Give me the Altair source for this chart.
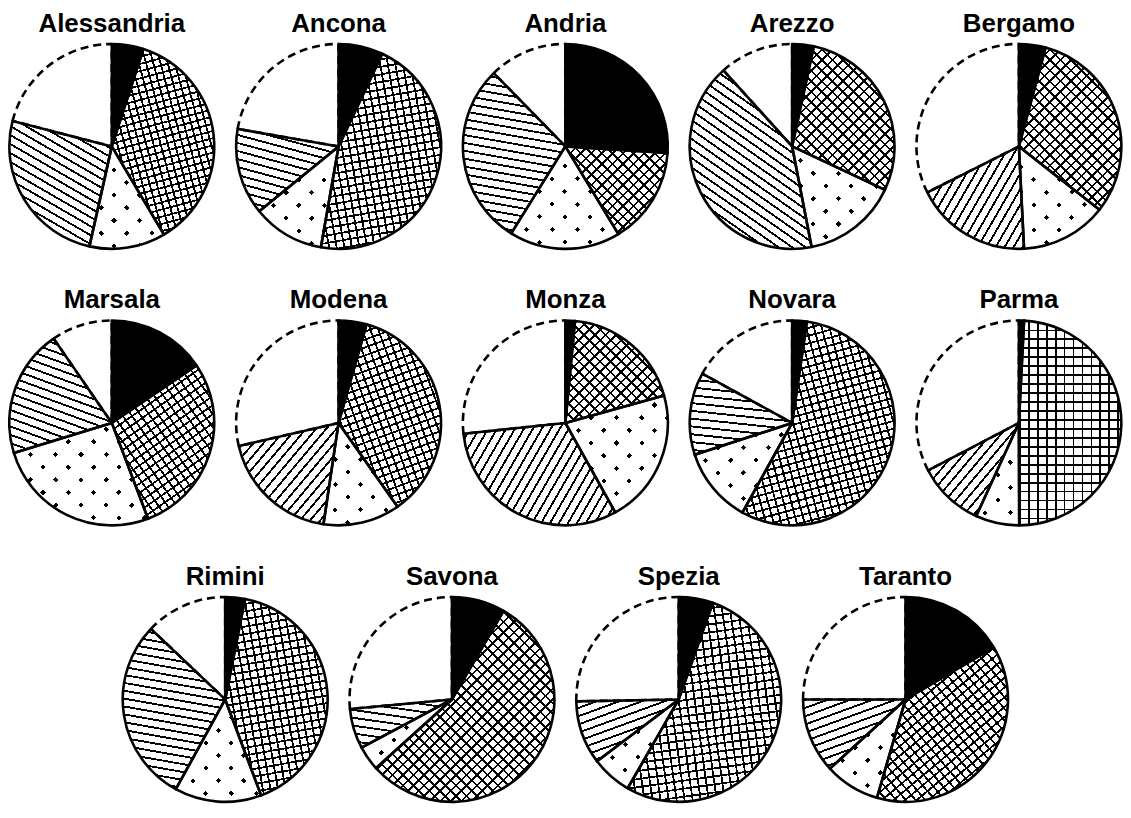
import math
import altair as alt
import pandas as pd

# ---------------- data (percent shares) ----------------
cities = ["Alessandria", "Ancona", "Andria", "Arezzo", "Bergamo",
          "Marsala", "Modena", "Monza", "Novara", "Parma",
          "Rimini", "Savona", "Spezia", "Taranto"]
categories = ["nero", "quadrettato", "punteggiato", "tratteggiato", "bianco"]

nero         = [5.0, 7.0, 26.0, 3.4, 4.2, 15.5, 4.4, 1.5, 2.3, 0.8, 3.1, 8.4, 5.4, 16.5]
quadrettato  = [36.5, 45.6, 15.3, 28.6, 31.4, 28.7, 35.8, 19.2, 55.7, 49.2, 41.2, 54.9, 52.9, 38.0]
punteggiato  = [12.0, 11.3, 17.5, 15.0, 13.6, 26.0, 12.1, 21.2, 11.9, 6.9, 13.7, 3.9, 6.4, 8.7]
tratteggiato = [25.5, 13.6, 28.8, 41.4, 18.4, 20.1, 19.0, 31.4, 13.0, 10.5, 29.1, 6.3, 10.0, 11.8]
bianco       = [21.0, 22.2, 12.3, 11.7, 32.4, 9.6, 28.6, 26.7, 17.0, 32.7, 12.9, 26.5, 25.3, 25.0]

series = [nero, quadrettato, punteggiato, tratteggiato, bianco]

rows = []
for ci, c in enumerate(cities):
    for k, cat in enumerate(categories):
        rows.append({"city": c, "category": cat, "order": k, "value": series[k][ci]})
df = pd.DataFrame(rows)

# ---------------- styles ----------------
hatch_angle = [-30, -15, -10, -35, 60, -20, 50, 60, -6, 50, -10, -8, 20, 20]
cross_rot = [15, 10, 45, 45, 45, 35, 20, 45, 15, 0, 10, 45, 8, 40]
cross_spacing = [7, 7.5, 7.5, 7.5, 7.5, 7.5, 7.5, 7.5, 7.5, 9, 7.5, 7.5, 8, 7.5]

SIZE = 208
R = 103
TRANSP = "rgba(255,255,255,0)"


def wedge_bbox(f0, f1):
    a0, a1 = f0 * 2 * math.pi, f1 * 2 * math.pi
    pts = [(0.0, 0.0), (R * math.sin(a0), -R * math.cos(a0)), (R * math.sin(a1), -R * math.cos(a1))]
    for k in range(5):
        ang = k * math.pi / 2
        if a0 < ang < a1:
            pts.append((R * math.sin(ang), -R * math.cos(ang)))
    xs = [p[0] for p in pts]
    ys = [p[1] for p in pts]
    return max(max(xs) - min(xs), 1e-3), max(max(ys) - min(ys), 1e-3)


def stripes(f0, f1, phi_deg, spacing, line_w, on, off=TRANSP):
    w, h = wedge_bbox(f0, f1)
    phi = math.radians(phi_deg)
    nx, ny = math.sin(phi), math.cos(phi)
    corners = [(0, 0), (w, 0), (0, h), (w, h)]
    L = [nx * cx + ny * cy for cx, cy in corners]
    imin = min(range(4), key=lambda i: L[i])
    D = max(L) - min(L)
    S = w * w * nx * nx + h * h * ny * ny
    kk = D / S
    a, b = kk * w * nx, kk * h * ny
    x1, y1 = corners[imin][0] / w, corners[imin][1] / h
    stops = []
    i = 0
    while i * spacing <= D:
        t0 = i * spacing / D
        t1 = min(1.0, (i * spacing + line_w) / D)
        t2 = min(1.0, (i + 1) * spacing / D)
        stops += [{"offset": round(t0, 5), "color": on},
                  {"offset": round(t1, 5), "color": on},
                  {"offset": round(t1, 5), "color": off},
                  {"offset": round(t2, 5), "color": off}]
        i += 1
    return {"gradient": "linear", "x1": round(x1, 5), "y1": round(y1, 5),
            "x2": round(x1 + a, 5), "y2": round(y1 + b, 5), "stops": stops}


theta = alt.Theta("start:Q", scale=alt.Scale(domain=[0, 1]))
theta2 = alt.Theta2("end:Q")


def wedge(cat, fill):
    return (alt.Chart().mark_arc(radius=R, fill=fill)
            .encode(theta=theta, theta2=theta2)
            .transform_filter(alt.datum.category == cat))


def city_chart(ci):
    city = cities[ci]
    vals = [s[ci] for s in series]
    tot = sum(vals)
    cum = [0.0]
    for v in vals:
        cum.append(cum[-1] + v / tot)
    fr = {cat: (cum[k], cum[k + 1]) for k, cat in enumerate(categories)}

    layers = [
        alt.Chart().mark_arc(radius=R, fill="white").encode(theta=theta, theta2=theta2),
        wedge("nero", "black"),
    ]
    f0, f1 = fr["quadrettato"]
    sp = cross_spacing[ci]
    layers.append(wedge("quadrettato", stripes(f0, f1, cross_rot[ci], sp, 1.8, "black")))
    layers.append(wedge("quadrettato", stripes(f0, f1, cross_rot[ci] + 90, sp, 1.8, "black")))
    f0, f1 = fr["punteggiato"]
    layers.append(wedge("punteggiato", "black"))
    layers.append(wedge("punteggiato", stripes(f0, f1, 45, 18, 14.3, "white")))
    layers.append(wedge("punteggiato", stripes(f0, f1, -45, 18, 14.3, "white")))
    f0, f1 = fr["tratteggiato"]
    layers.append(wedge("tratteggiato", stripes(f0, f1, hatch_angle[ci], 7.8, 1.9, "black")))
    # dashed outline of the blank share
    layers.append(
        alt.Chart().mark_arc(radius=R, fillOpacity=0, stroke="black", strokeWidth=2.6,
                             strokeDash=[8, 5], strokeJoin="round")
        .encode(theta=theta, theta2=theta2)
        .transform_filter(alt.datum.category == "bianco")
    )
    # solid outline of all other shares
    layers.append(
        alt.Chart().mark_arc(radius=R, fillOpacity=0, stroke="black", strokeWidth=2.6,
                             strokeJoin="round")
        .encode(theta=theta, theta2=theta2)
        .transform_filter(alt.datum.category != "bianco")
    )
    return (alt.layer(*layers, data=df)
            .transform_filter(alt.datum.city == city)
            .transform_joinaggregate(total="sum(value)", groupby=["city"])
            .transform_window(cum="sum(value)", sort=[alt.SortField("order")],
                              groupby=["city"], frame=[None, 0])
            .transform_calculate(start="(datum.cum - datum.value) / datum.total",
                                 end="datum.cum / datum.total")
            .properties(width=SIZE, height=SIZE, title=city))


row1 = alt.hconcat(*[city_chart(i) for i in range(0, 5)], spacing=18)
row2 = alt.hconcat(*[city_chart(i) for i in range(5, 10)], spacing=18)
row3 = alt.hconcat(*[city_chart(i) for i in range(10, 14)], spacing=18)

chart = (alt.vconcat(row1, row2, row3, spacing=36, center=True)
         .properties(padding=0, background="white")
         .configure_view(stroke=None)
         .configure_title(font="Liberation Sans", fontSize=26, fontWeight="bold",
                          color="black", anchor="middle", offset=6))

chart.save("out.html", embed_options={"renderer": "svg", "actions": False})
